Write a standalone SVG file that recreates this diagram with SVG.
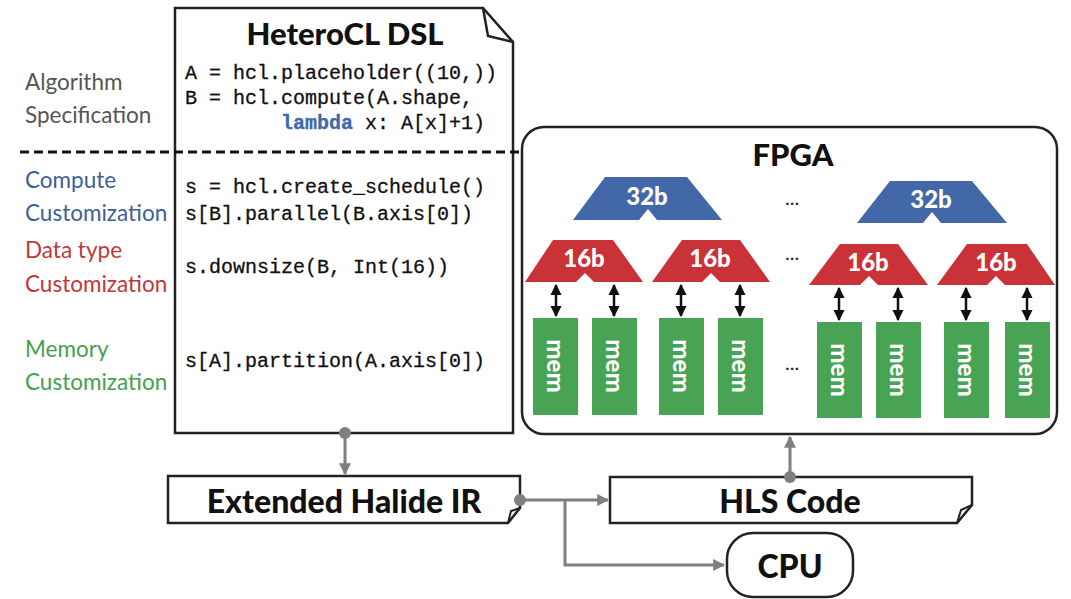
<svg xmlns="http://www.w3.org/2000/svg" width="1071" height="599" viewBox="0 0 1071 599">
<defs>
<style>
.lbl{font-family:Lato,"Open Sans",sans-serif;font-size:22.5px}
.code{font-family:"Liberation Mono",monospace;font-size:20px;fill:#111;stroke:#111;stroke-width:0.3}
.head{font-family:Lato,"Open Sans",sans-serif;font-weight:900;fill:#111}
.box{fill:#fff;stroke:#222;stroke-width:2.5}
.blue{fill:#4268a8}
.red{fill:#c93237}
.green{fill:#48a354}
.wt{font-family:Lato,"Open Sans",sans-serif;font-weight:900;fill:#fff;font-size:24px;text-anchor:middle}
.conn{stroke:#7f7f7f;stroke-width:3;fill:none}
.dbl{stroke:#111;stroke-width:2.5;fill:none}
.dots{font-family:Lato,sans-serif;font-size:20px;fill:#222}
</style>
<marker id="ga" viewBox="0 0 10 10" refX="9" refY="5" markerWidth="4" markerHeight="4" orient="auto"><path d="M0,0 L10,5 L0,10 Z" fill="#7f7f7f"/></marker>
<marker id="ba" viewBox="0 0 10 10" refX="9" refY="5" markerWidth="4.5" markerHeight="4.5" orient="auto-start-reverse"><path d="M0,0 L10,5 L0,10 Z" fill="#111"/></marker>
</defs>
<rect width="1071" height="599" fill="#fff"/>

<g id="labels">
<text class="lbl" x="25" y="90" fill="#555">Algorithm</text>
<text class="lbl" x="25" y="123" fill="#555">Specification</text>
<text class="lbl" x="25" y="188" fill="#3d5f98">Compute</text>
<text class="lbl" x="25" y="221" fill="#3d5f98">Customization</text>
<text class="lbl" x="25" y="258" fill="#c0383b">Data type</text>
<text class="lbl" x="25" y="292" fill="#c0383b">Customization</text>
<text class="lbl" x="25" y="357" fill="#45a050">Memory</text>
<text class="lbl" x="25" y="390" fill="#45a050">Customization</text>
</g>

<g id="dsl">
<path class="box" d="M175,8 L483,8 L513,42 L513,433 L175,433 Z"/>
<path d="M483,8 L488,36 L513,42" fill="none" stroke="#222" stroke-width="2.5"/>
<text class="head" x="345" y="45" font-size="31" text-anchor="middle">HeteroCL DSL</text>
<text class="code" x="185" y="79">A = hcl.placeholder((10,))</text>
<text class="code" x="185" y="104">B = hcl.compute(A.shape,</text>
<text class="code" x="185" y="129" xml:space="preserve">        <tspan fill="#4268a8" stroke="#4268a8" font-weight="bold">lambda</tspan> x: A[x]+1)</text>
<text class="code" x="185" y="193">s = hcl.create_schedule()</text>
<text class="code" x="185" y="220">s[B].parallel(B.axis[0])</text>
<text class="code" x="185" y="273">s.downsize(B, Int(16))</text>
<text class="code" x="185" y="367">s[A].partition(A.axis[0])</text>
</g>

<line x1="20" y1="152" x2="522" y2="152" stroke="#111" stroke-width="3" stroke-dasharray="9,5"/>

<g id="fpga">
<rect class="box" x="522" y="127" width="535" height="307" rx="22"/>
<text class="head" x="793" y="166" font-size="31" text-anchor="middle">FPGA</text>
<path class="blue" d="M573,220 L605,177 L687,177 L722,220 L657,220 L648,209 L639,220 Z"/>
<text class="wt" x="647" y="205">32b</text>
<path class="blue" d="M857,223 L890,181 L972,181 L1007,223 L941,223 L932,212 L923,223 Z"/>
<text class="wt" x="931" y="208">32b</text>
<text class="dots" x="785" y="205">...</text>
<text class="dots" x="785" y="260">...</text>
<text class="dots" x="785" y="370">...</text>

<path class="red" d="M525,282 L553,240 L613,240 L643,282 L594,282 L585,273 L576,282 Z"/>
<text class="wt" x="584" y="267">16b</text>
<path class="red" d="M652,282 L682,240 L740,240 L770,282 L720,282 L711,273 L702,282 Z"/>
<text class="wt" x="710" y="267">16b</text>
<path class="red" d="M809,285 L840,244 L898,244 L928,285 L878,285 L869,276 L860,285 Z"/>
<text class="wt" x="868" y="271">16b</text>
<path class="red" d="M937,285 L967,244 L1027,244 L1055,285 L1005,285 L996,276 L987,285 Z"/>
<text class="wt" x="996" y="271">16b</text>

<g class="dbl" marker-start="url(#ba)" marker-end="url(#ba)">
<line x1="556" y1="285" x2="556" y2="316"/>
<line x1="614" y1="285" x2="614" y2="316"/>
<line x1="681" y1="285" x2="681" y2="316"/>
<line x1="740" y1="285" x2="740" y2="316"/>
<line x1="839" y1="288" x2="839" y2="320"/>
<line x1="898" y1="288" x2="898" y2="320"/>
<line x1="966" y1="288" x2="966" y2="320"/>
<line x1="1027" y1="288" x2="1027" y2="320"/>
</g>

<g class="green">
<rect x="533" y="318" width="45" height="97"/>
<rect x="592" y="318" width="45" height="97"/>
<rect x="659" y="318" width="45" height="97"/>
<rect x="718" y="318" width="45" height="97"/>
<rect x="817" y="322" width="45" height="96"/>
<rect x="876" y="322" width="45" height="96"/>
<rect x="944" y="322" width="45" height="96"/>
<rect x="1005" y="322" width="45" height="96"/>
</g>
<g class="wt" font-size="25">
<text transform="translate(547,366) rotate(90)">mem</text>
<text transform="translate(606,366) rotate(90)">mem</text>
<text transform="translate(673,366) rotate(90)">mem</text>
<text transform="translate(732,366) rotate(90)">mem</text>
<text transform="translate(831,370) rotate(90)">mem</text>
<text transform="translate(890,370) rotate(90)">mem</text>
<text transform="translate(958,370) rotate(90)">mem</text>
<text transform="translate(1019,370) rotate(90)">mem</text>
</g>
</g>

<g id="halide">
<path class="box" d="M168,476 L520,476 L520,508 L508,523 L168,523 Z"/>
<path d="M520,508 L511,511 L508,523" fill="none" stroke="#222" stroke-width="2"/>
<text class="head" x="344" y="513" font-size="32" text-anchor="middle">Extended Halide IR</text>
</g>

<g id="hls">
<path class="box" d="M610,477 L972,477 L972,505 L957,523 L610,523 Z"/>
<path d="M972,505 L961,510 L957,523" fill="none" stroke="#222" stroke-width="2"/>
<text class="head" x="790" y="513" font-size="32" text-anchor="middle">HLS Code</text>
</g>

<g id="cpu">
<rect class="box" x="727" y="533" width="126" height="64" rx="26"/>
<text class="head" x="790" y="578" font-size="32" text-anchor="middle">CPU</text>
</g>

<g id="connectors">
<circle cx="345" cy="433" r="6" fill="#7f7f7f"/>
<line class="conn" x1="345" y1="433" x2="345" y2="474" marker-end="url(#ga)"/>
<circle cx="520" cy="500" r="6" fill="#7f7f7f"/>
<line class="conn" x1="520" y1="500" x2="608" y2="500" marker-end="url(#ga)"/>
<polyline class="conn" points="565,500 565,565 724,565" marker-end="url(#ga)"/>
<circle cx="790" cy="477" r="6" fill="#7f7f7f"/>
<line class="conn" x1="790" y1="477" x2="790" y2="437" marker-end="url(#ga)"/>
</g>
</svg>
